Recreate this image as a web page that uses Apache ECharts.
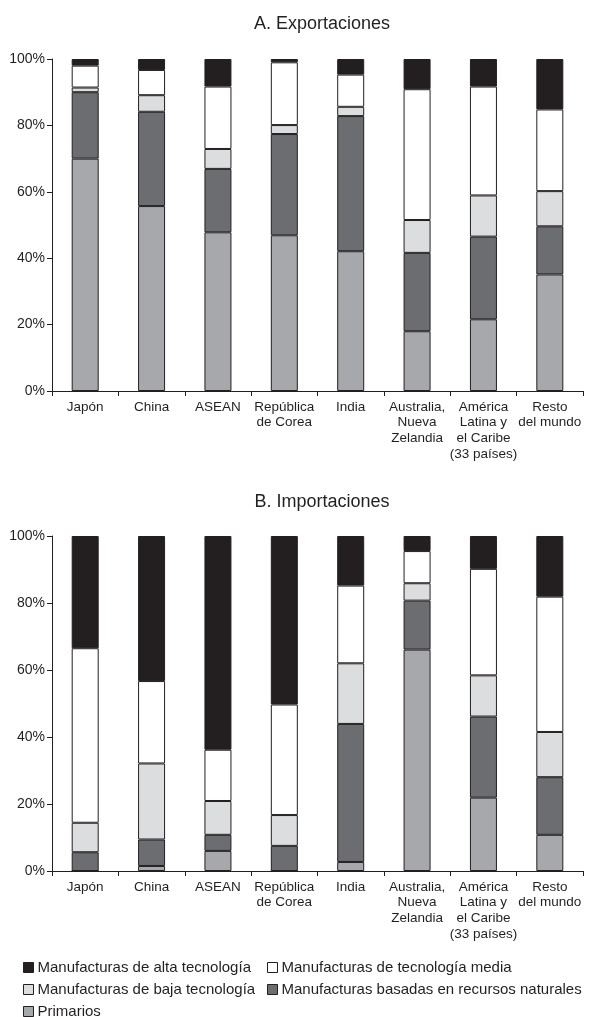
<!DOCTYPE html>
<html>
<head>
<meta charset="utf-8">
<script src="https://cdn.jsdelivr.net/npm/echarts@6/dist/echarts.min.js"></script>
<style>
  html, body { margin: 0; padding: 0; background: #fff; }
  #chart { width: 590px; height: 1017px; }
</style>
</head>
<body>
<div id="chart"></div>
<script>
// categorías (eje x)
var categorias = ['Japón', 'China', 'ASEAN', 'República\nde Corea', 'India',
  'Australia,\nNueva\nZelandia', 'América\nLatina y\nel Caribe\n(33 países)', 'Resto\ndel mundo']
var ticksY = [0, 20, 40, 60, 80, 100]

// A. Exportaciones (%)
var expPrimarios = [70.0, 55.7, 47.8, 46.9, 42.1, 18.0, 21.6, 35.1]
var expRecursos = [20.0, 28.4, 19.1, 30.5, 40.7, 23.6, 24.9, 14.5]
var expBaja = [1.4, 5.0, 6.0, 2.7, 2.8, 9.9, 12.4, 10.6]
var expMedia = [6.6, 7.6, 18.8, 18.9, 9.7, 39.4, 32.8, 24.6]
var expAlta = [2.0, 3.3, 8.3, 1.0, 4.7, 9.1, 8.3, 15.2]

// B. Importaciones (%)
var impPrimarios = [0, 1.5, 6.0, 0, 2.7, 66.1, 21.9, 10.8]
var impRecursos = [5.6, 7.9, 4.8, 7.5, 41.2, 14.6, 24.2, 17.2]
var impBaja = [8.8, 22.7, 10.1, 9.2, 18.1, 5.2, 12.3, 13.5]
var impMedia = [52.1, 24.6, 15.3, 33.0, 23.2, 9.6, 31.8, 40.4]
var impAlta = [33.5, 43.3, 63.8, 50.3, 14.8, 4.5, 9.8, 18.1]

var nombres = ['Primarios', 'Manufacturas basadas en recursos naturales',
  'Manufacturas de baja tecnología', 'Manufacturas de tecnología media',
  'Manufacturas de alta tecnología']
var colores = ['#a7a8ab', '#6c6d71', '#dcdddf', '#ffffff', '#231f20']

var tinta = '#231f20'
var fuente = 'Liberation Sans, Arial, Helvetica, sans-serif'

function ejeX(grid) {
  return {
    type: 'category',
    gridIndex: grid,
    data: categorias,
    axisLine: { lineStyle: { color: tinta, width: 1 } },
    axisTick: { show: true, length: 5, lineStyle: { color: tinta } },
    axisLabel: {
      color: tinta, fontSize: 13.5, fontFamily: fuente,
      lineHeight: 15.7, margin: 8, interval: 0
    }
  }
}

function ejeY(grid) {
  return {
    type: 'value',
    gridIndex: grid,
    min: 0,
    max: 100,
    interval: 20,
    axisLine: { show: true, lineStyle: { color: tinta, width: 1 } },
    axisTick: { show: true, length: 5, lineStyle: { color: tinta } },
    splitLine: { show: false },
    axisLabel: {
      color: tinta, fontSize: 14, fontFamily: fuente, margin: 7,
      formatter: function (v) { return ticksY.indexOf(v) >= 0 ? v + '%' : '' }
    }
  }
}

function serie(nombre, datos, i, grid) {
  return {
    name: nombre,
    type: 'bar',
    stack: 'g' + grid,
    xAxisIndex: grid,
    yAxisIndex: grid,
    barWidth: 27,
    data: datos,
    itemStyle: { color: colores[i], borderColor: tinta, borderWidth: 1 },
    emphasis: { disabled: true }
  }
}

var series = []
var exp = [expPrimarios, expRecursos, expBaja, expMedia, expAlta]
var imp = [impPrimarios, impRecursos, impBaja, impMedia, impAlta]
for (var i = 0; i < 5; i++) series.push(serie(nombres[i], exp[i], i, 0))
for (var j = 0; j < 5; j++) series.push(serie(nombres[j], imp[j], j, 1))

// leyenda: un componente por elemento para fijar su posición
var posLeyenda = [
  { n: 4, left: 23, top: 960 },
  { n: 3, left: 267, top: 960 },
  { n: 2, left: 23, top: 982 },
  { n: 1, left: 267, top: 982 },
  { n: 0, left: 23, top: 1004 }
]
var leyendas = posLeyenda.map(function (p) {
  return {
    data: [nombres[p.n]],
    left: p.left,
    top: p.top,
    padding: 0,
    icon: 'rect',
    itemWidth: 10,
    itemHeight: 10,
    itemGap: 4,
    selectedMode: false,
    textStyle: { color: tinta, fontSize: 15, fontFamily: fuente, padding: [0, 0, 0, -1] },
    itemStyle: { borderColor: tinta, borderWidth: 1 }
  }
})

var tituloEstilo = { color: tinta, fontSize: 18, fontWeight: 'normal', fontFamily: fuente }

var options = {
  backgroundColor: '#fff',
  animation: false,
  title: [
    { text: 'A. Exportaciones', left: 317, top: 10, textAlign: 'center', textStyle: tituloEstilo },
    { text: 'B. Importaciones', left: 317, top: 488, textAlign: 'center', textStyle: tituloEstilo }
  ],
  legend: leyendas,
  grid: [
    { left: 52, right: 7, top: 59, height: 332 },
    { left: 52, right: 7, top: 536, height: 335 }
  ],
  xAxis: [ejeX(0), ejeX(1)],
  yAxis: [ejeY(0), ejeY(1)],
  series: series
}

var myChart = echarts.init(document.getElementById('chart'))
myChart.setOption(options)
</script>
</body>
</html>
